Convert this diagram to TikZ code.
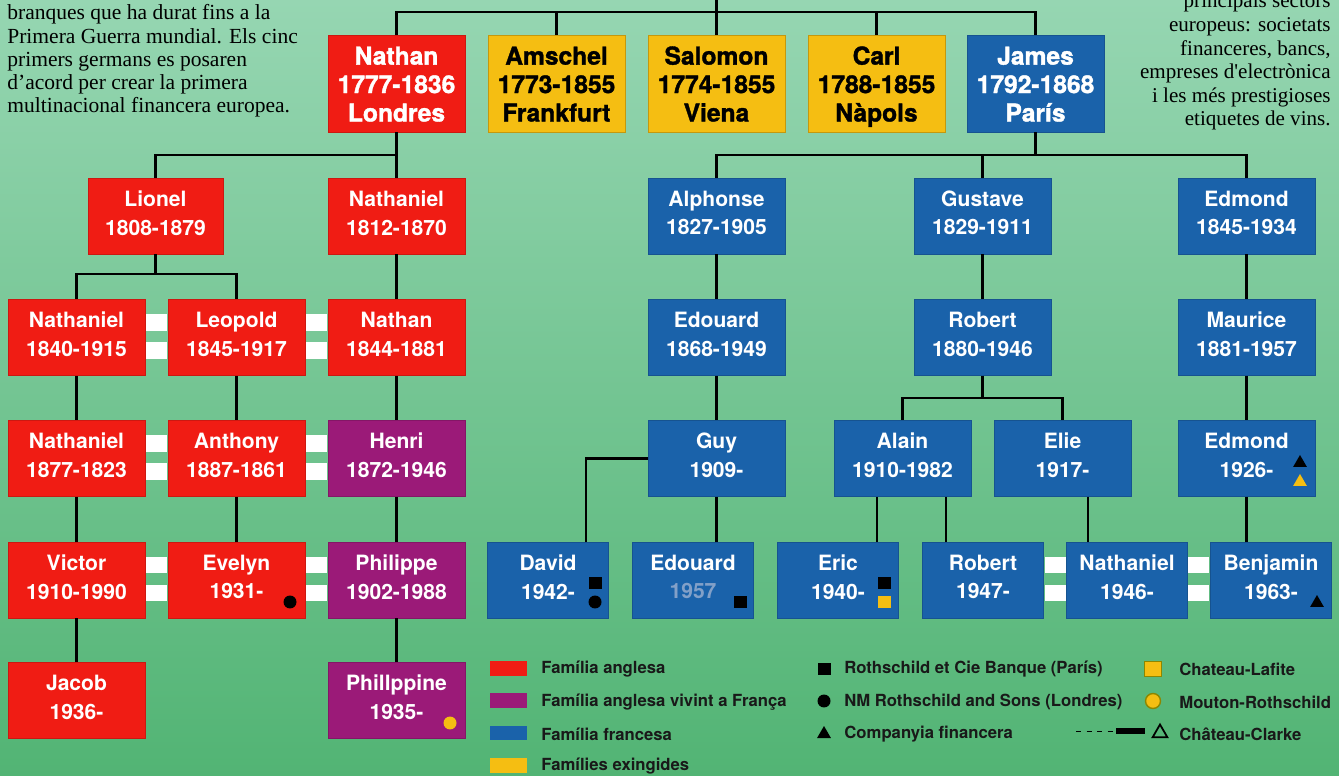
\documentclass[tikz,border=0pt]{standalone}
\usepackage{fontspec}
\setmainfont{Liberation Serif}
\setsansfont{TeX Gyre Heros}
\newfontfamily\gruixut{texgyreheros-bold.otf}[FakeBold=1.4]
\usetikzlibrary{shapes.geometric}

\definecolor{anglesa}{RGB}{240,28,20}
\definecolor{franca}{RGB}{155,26,120}
\definecolor{francesa}{RGB}{26,98,170}
\definecolor{extinta}{RGB}{245,190,18}
\definecolor{fonsalt}{RGB}{150,214,178}
\definecolor{fonsbaix}{RGB}{82,180,116}
\definecolor{grisblau}{RGB}{130,160,200}

\begin{document}
\begin{tikzpicture}[x=0.02cm,y=-0.02cm,
    caixa/.style={rectangle,inner sep=0pt,minimum width=2.74cm,align=center,text=white},
    persona/.style={caixa,minimum height=1.52cm,
      font=\sffamily\bfseries\fontsize{12}{16.4}\selectfont,
      execute at end node={\rule[-3.7pt]{0pt}{0pt}}},
    germa/.style={caixa,minimum height=1.94cm,font=\gruixut\fontsize{14}{16.2}\selectfont,
      text height=46.1pt,text depth=2.8pt},
    petit/.style={minimum width=2.42cm},
    ang/.style={fill=anglesa,draw=anglesa!85!black},
    fra/.style={fill=franca,draw=franca!85!black},
    frc/.style={fill=francesa,draw=francesa!85!black},
    ext/.style={fill=extinta,draw=extinta!80!black,text=black},
    lligam/.style={line width=1.3pt,black},
    casat/.style={fill=white,inner sep=0pt,minimum width=0.42cm,minimum height=0.34cm},
    quadre/.style={fill=black,inner sep=0pt,minimum size=0.26cm},
    rodona/.style={circle,fill=black,inner sep=0pt,minimum size=0.26cm},
    trimark/.style={regular polygon,regular polygon sides=3,fill=black,inner sep=0pt,minimum size=0.32cm},
    mostra/.style={inner sep=0pt,minimum width=0.74cm,minimum height=0.3cm},
    llegenda/.style={anchor=west,inner sep=0pt,text=black!90,font=\sffamily\bfseries\fontsize{9.5}{11}\selectfont}]

  % fons
  \shade[top color=fonsalt,bottom color=fonsbaix] (0,0) rectangle (1339,776);
  \useasboundingbox (0,0) rectangle (1339,776);

  % textos
  \node[anchor=north west,align=left,inner sep=0pt,font=\fontsize{12.25}{13.2}\selectfont] (textesq) at (7,4.5){%
    branques que ha durat fins a la\\
    Primera Guerra mundial. Els cinc\\
    primers germans es posaren\\
    d’acord per crear la primera\\
    multinacional financera europea.};
  \node[anchor=north east,align=right,inner sep=0pt,font=\fontsize{12}{13.4}\selectfont] (textdreta) at (1331,-7){%
    principals sectors\\
    europeus: societats\\
    financeres, bancs,\\
    empreses d\textquotesingle electrònica\\
    i les més prestigioses\\
    etiquetes de vins.};

  % germans
  \node[germa,ang] (nathan) at (396.5,83.5) {Nathan\\1777-1836\\Londres};
  \node[germa,ext] (amschel) at (556.5,83.5) {Amschel\\1773-1855\\Frankfurt};
  \node[germa,ext] (salomon) at (716.5,83.5) {Salomon\\1774-1855\\Viena};
  \node[germa,ext] (carl) at (876.5,83.5) {Carl\\1788-1855\\Nàpols};
  \node[germa,frc] (james) at (1035.5,83.5) {James\\1792-1868\\París};

  % fila 1
  \node[persona,ang,minimum width=2.7cm] (lionel) at (155.5,216) {Lionel\\1808-1879};
  \node[persona,ang] (nathanielA) at (396.5,216) {Nathaniel\\1812-1870};
  \node[persona,frc] (alphonse) at (716.5,216) {Alphonse\\1827-1905};
  \node[persona,frc] (gustave) at (982.5,216) {Gustave\\1829-1911};
  \node[persona,frc] (edmondA) at (1246.5,216) {Edmond\\1845-1934};

  % fila 2
  \node[persona,ang] (nathanielB) at (76.5,337.5) {Nathaniel\\1840-1915};
  \node[persona,ang] (leopold) at (236.5,337.5) {Leopold\\1845-1917};
  \node[persona,ang] (nathanB) at (396.5,337.5) {Nathan\\1844-1881};
  \node[persona,frc] (edouardA) at (716.5,337.5) {Edouard\\1868-1949};
  \node[persona,frc] (robertA) at (982.5,337.5) {Robert\\1880-1946};
  \node[persona,frc] (maurice) at (1246.5,337.5) {Maurice\\1881-1957};

  % fila 3
  \node[persona,ang] (nathanielC) at (76.5,458.5) {Nathaniel\\1877-1823};
  \node[persona,ang] (anthony) at (236.5,458.5) {Anthony\\1887-1861};
  \node[persona,fra] (henri) at (396.5,458.5) {Henri\\1872-1946};
  \node[persona,frc] (guy) at (716.5,458.5) {Guy\\1909-};
  \node[persona,frc] (alain) at (902.5,458.5) {Alain\\1910-1982};
  \node[persona,frc] (elie) at (1062.5,458.5) {Elie\\1917-};
  \node[persona,frc] (edmondB) at (1246.5,458.5) {Edmond\\1926-};

  % fila 4
  \node[persona,ang] (victor) at (76.5,580) {Victor\\1910-1990};
  \node[persona,ang] (evelyn) at (236.5,580) {Evelyn\\1931-};
  \node[persona,fra] (philippe) at (396.5,580) {Philippe\\1902-1988};
  \node[persona,petit,frc] (david) at (548,580) {David\\1942-};
  \node[persona,petit,frc] (edouardB) at (693,580) {Edouard\\\textcolor{grisblau}{1957}};
  \node[persona,petit,frc] (eric) at (838,580) {Eric\\1940-};
  \node[persona,petit,frc] (robertB) at (983,580) {Robert\\1947-};
  \node[persona,petit,frc] (nathanielD) at (1127,580) {Nathaniel\\1946-};
  \node[persona,petit,frc] (benjamin) at (1271,580) {Benjamin\\1963-};

  % fila 5
  \node[persona,ang] (jacob) at (76.5,700.5) {Jacob\\1936-};
  \node[persona,fra] (philippine) at (396.5,700.5) {Phillppine\\1935-};

  % lligams
  \coordinate (arrel) at (716.5,0);
  \coordinate (barra) at (716.5,12);
  \draw[lligam] (arrel) -- (salomon.north);
  \foreach \g in {nathan,amschel,carl,james}
    \draw[lligam] (\g.north) |- (barra);

  \draw[lligam] (nathan.south) -- (nathanielA.north);
  \draw[lligam] (nathan.south) -- ++(0,23) -| (lionel.north);
  \foreach \f in {alphonse,gustave,edmondA}
    \draw[lligam] (james.south) -- ++(0,23) -| (\f.north);
  \foreach \f in {nathanielB,leopold}
    \draw[lligam] (lionel.south) -- ++(0,20) -| (\f.north);
  \foreach \f in {alain,elie}
    \draw[lligam] (robertA.south) -- ++(0,22) -| (\f.north);

  \draw[lligam] (nathanielA) -- (nathanB) -- (henri) -- (philippe) -- (philippine);
  \draw[lligam] (nathanielB) -- (nathanielC) -- (victor) -- (jacob);
  \draw[lligam] (leopold) -- (anthony) -- (evelyn);
  \draw[lligam] (alphonse) -- (edouardA) -- (guy);
  \draw[lligam] (gustave) -- (robertA);
  \draw[lligam] (edmondA) -- (maurice) -- (edmondB);

  \draw[lligam] (guy.west) -| ([xshift=0.76cm]david.north);
  \draw[lligam] (guy.south) -- (guy.south |- edouardB.north);
  \coordinate (alainE) at ([xshift=-0.51cm]alain.south);
  \coordinate (alainR) at ([xshift=0.87cm]alain.south);
  \coordinate (elieN) at ([xshift=0.51cm]elie.south);
  \draw[lligam] (alainE) -- (alainE |- eric.north);
  \draw[lligam] (alainR) -- (alainR |- robertB.north);
  \draw[lligam] (elieN) -- (elieN |- nathanielD.north);
  \draw[lligam] (edmondB.south) -- (edmondB.south |- benjamin.north);

  % casaments
  \foreach \x/\y [count=\i] in {156.5/337.5,316.5/337.5,156.5/458.5,316.5/458.5,
      156.5/580,316.5/580,1055/580,1198.5/580}{
    \node[casat] (casA\i) at (\x,\y-15) {};
    \node[casat] (casB\i) at (\x,\y+13) {};
  }

  % marques
  \node[rodona] (mEvelyn) at (290,602) {};
  \node[rodona,fill=extinta] (mPhilippine) at (450,723) {};
  \node[quadre] (mDavidA) at (595,583) {};
  \node[rodona] (mDavidB) at (595,602) {};
  \node[quadre] (mEdouard) at (740,602) {};
  \node[quadre] (mEricA) at (884,583) {};
  \node[quadre,fill=extinta] (mEricB) at (884,602) {};
  \node[trimark] (mBenjamin) at (1317,603) {};
  \node[trimark] (mEdmondA) at (1300,463) {};
  \node[trimark,fill=extinta] (mEdmondB) at (1300,482) {};

  % llegenda
  \node[mostra,fill=anglesa] (lsA) at (508.5,668.5) {};
  \node[mostra,fill=franca] (lsB) at (508.5,700.5) {};
  \node[mostra,fill=francesa] (lsC) at (508.5,733) {};
  \node[mostra,fill=extinta] (lsD) at (508.5,765) {};
  \node[llegenda] (ltA) at (541,669) {Família anglesa};
  \node[llegenda] (ltB) at (541,702) {Família anglesa vivint a França};
  \node[llegenda] (ltC) at (541,734) {Família francesa};
  \node[llegenda] (ltD) at (541,766) {Famílies exingides};

  \node[quadre] (lqA) at (824,669) {};
  \node[rodona] (lqB) at (824,701) {};
  \node[trimark] (lqC) at (824,734) {};
  \node[llegenda] (ltE) at (844,669) {Rothschild et Cie Banque (París)};
  \node[llegenda] (ltF) at (844,702) {NM Rothschild and Sons (Londres)};
  \node[llegenda] (ltG) at (844,734) {Companyia financera};

  \node[fill=extinta,draw=olive,line width=0.8pt,inner sep=0pt,minimum width=0.34cm,minimum height=0.3cm] (liA) at (1153,669) {};
  \node[circle,fill=extinta,draw=olive,line width=0.8pt,inner sep=0pt,minimum size=0.3cm] (liB) at (1153,701) {};
  \draw[dashed,thin] (1076,731) -- (1116,731);
  \fill (1116,728) rectangle (1145,734);
  \node[regular polygon,regular polygon sides=3,draw=black,line width=1pt,inner sep=0pt,minimum size=0.34cm] (liC) at (1160,733) {};
  \node[llegenda] (ltH) at (1179,669) {Chateau-Lafite};
  \node[llegenda] (ltI) at (1179,702) {Mouton-Rothschild};
  \node[llegenda] (ltJ) at (1179,734) {Château-Clarke};
\end{tikzpicture}
\end{document}
